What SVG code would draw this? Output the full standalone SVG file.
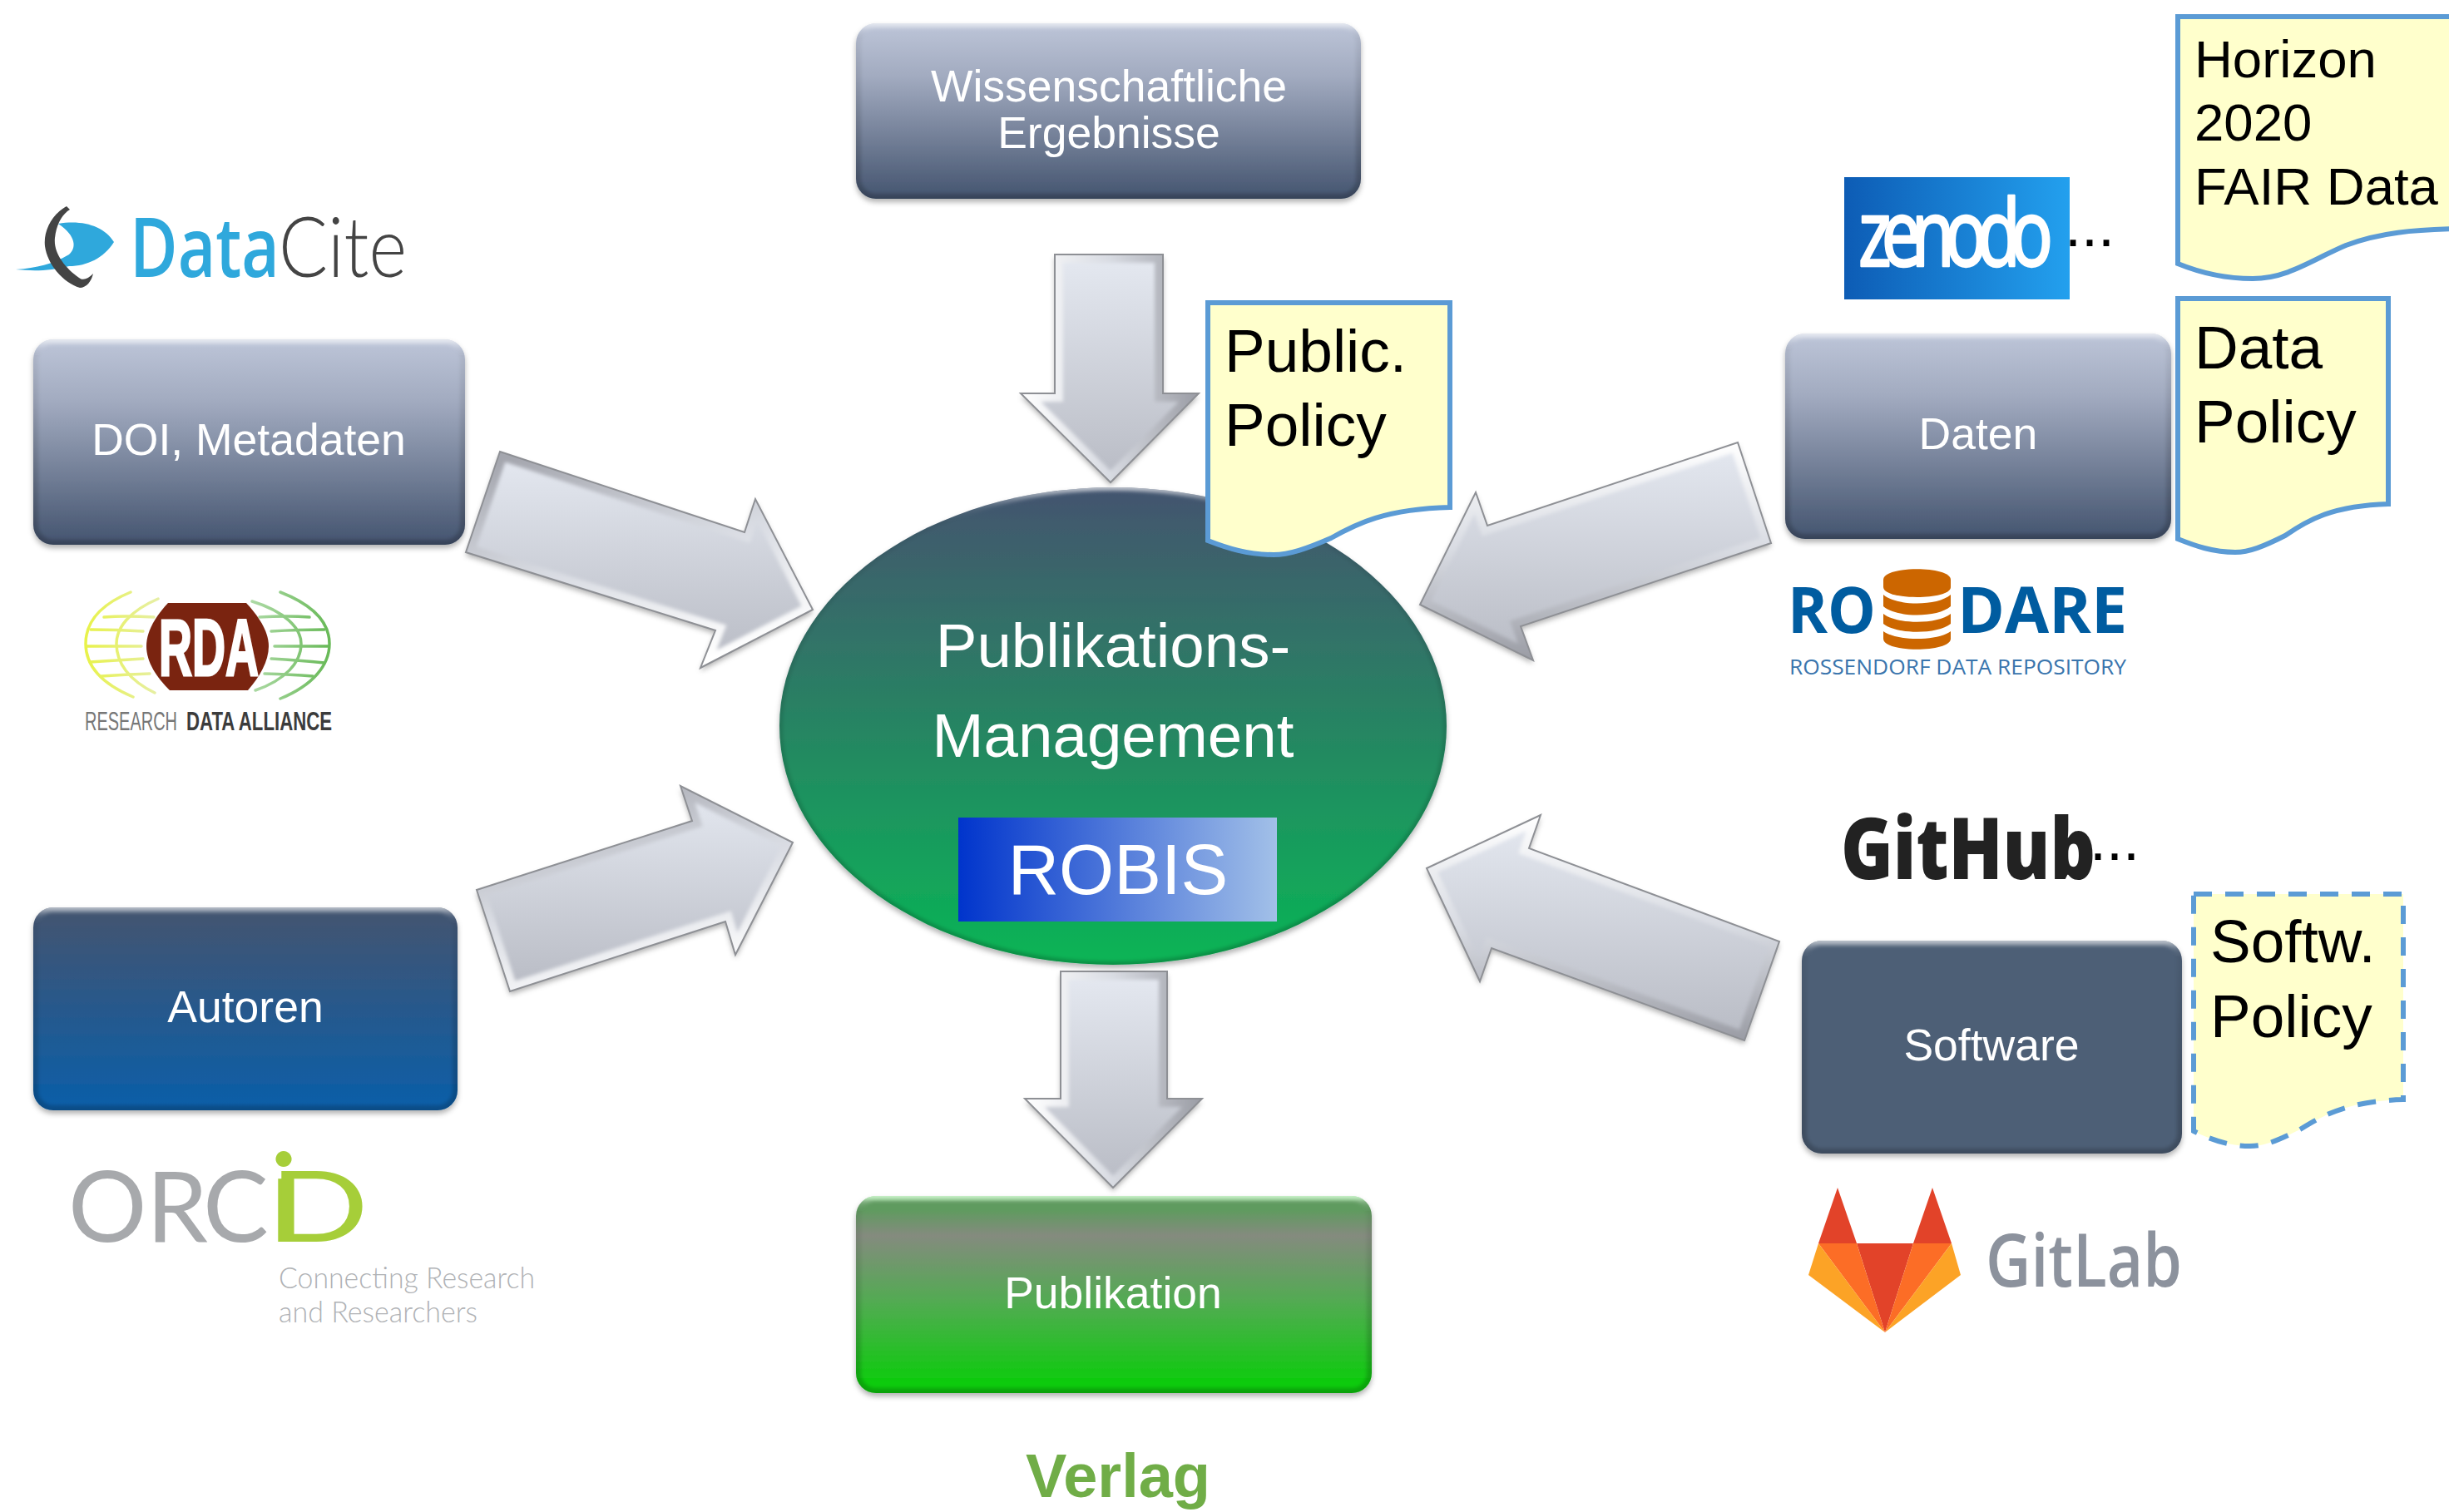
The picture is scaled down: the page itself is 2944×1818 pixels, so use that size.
<svg xmlns="http://www.w3.org/2000/svg" width="2944" height="1818" viewBox="0 0 2944 1818">
<style>
text{font-family:"Liberation Sans",Arial,sans-serif}
.lbl{fill:#fff;text-anchor:middle;font-size:53.5px}
.note{fill:#FFFFCC;stroke:#5B9BD5;stroke-width:6;stroke-linejoin:miter}
.notetxt{fill:#000;font-size:73px}
.arrow{fill:url(#arrowFill);filter:url(#shadow)}
.edge{fill:none;stroke:#8E9095;stroke-width:2;stroke-linejoin:miter}
.bev{fill:none;stroke-width:20;filter:url(#blur)}
.boxbev{fill:none;stroke:url(#boxBevel);stroke-width:12;filter:url(#blurS)}
.dots{fill:#000;font-size:72px}
.logo{font-family:"Open Sans","Liberation Sans",sans-serif}
.lato{font-family:Lato,"Open Sans",sans-serif}
</style>
<defs>
<filter id="shadow" x="-10%" y="-10%" width="120%" height="125%"><feDropShadow dx="0" dy="4" stdDeviation="3" flood-color="#000" flood-opacity=".3"/></filter>
<filter id="blur" x="-5%" y="-5%" width="110%" height="110%"><feGaussianBlur stdDeviation="2"/></filter>
<filter id="blurS" x="-5%" y="-5%" width="110%" height="110%"><feGaussianBlur stdDeviation="2"/></filter>
<linearGradient id="arrowFill" x1="0" y1="0" x2="0" y2="1"><stop offset="0" stop-color="#E5E9F1"/><stop offset="1" stop-color="#B8BBC4"/></linearGradient>
<linearGradient id="bevUp" x1="0" y1="0" x2="0" y2="1"><stop offset="0" stop-color="#FFFFFF"/><stop offset=".5" stop-color="#D8DBE2"/><stop offset="1" stop-color="#9A9CA4"/></linearGradient>
<linearGradient id="bevDown" x1="0.2" y1="0" x2="0.6" y2="1"><stop offset="0" stop-color="#A4A6AE"/><stop offset=".5" stop-color="#D8DBE2"/><stop offset="1" stop-color="#FFFFFF"/></linearGradient>
<linearGradient id="bevSide" x1="0" y1="0" x2="1" y2="0"><stop offset="0" stop-color="#FFFFFF"/><stop offset=".5" stop-color="#D8DBE2"/><stop offset="1" stop-color="#9A9CA4"/></linearGradient>
<linearGradient id="boxBevel" x1="0" y1="0" x2="0" y2="1"><stop offset="0" stop-color="#fff" stop-opacity=".65"/><stop offset=".04" stop-color="#fff" stop-opacity=".1"/><stop offset=".08" stop-color="#000" stop-opacity=".05"/><stop offset="1" stop-color="#000" stop-opacity=".2"/></linearGradient>
<linearGradient id="slate" x1="0" y1="0" x2="0" y2="1"><stop offset="0" stop-color="#BDC5D8"/><stop offset=".3" stop-color="#A2ABC0"/><stop offset="1" stop-color="#44546F"/></linearGradient>
<linearGradient id="blueBox" x1="0" y1="0" x2="0" y2="1"><stop offset="0" stop-color="#44546F"/><stop offset="1" stop-color="#0A5EA9"/></linearGradient>
<linearGradient id="greenBox" x1="0" y1="0" x2="0" y2="1"><stop offset="0" stop-color="#6FD86F"/><stop offset=".03" stop-color="#5F9B5F"/><stop offset=".07" stop-color="#5F9B5F"/><stop offset=".2" stop-color="#848B7E"/><stop offset=".55" stop-color="#50AC50"/><stop offset=".95" stop-color="#0DCB0D"/><stop offset="1" stop-color="#0DCB0D"/></linearGradient>
<linearGradient id="ell" x1="0" y1="0" x2="0" y2="1"><stop offset="0" stop-color="#44546F"/><stop offset="1" stop-color="#09B556"/></linearGradient>
<linearGradient id="robis" x1="0" y1="0" x2="1" y2="0"><stop offset="0" stop-color="#0034CC"/><stop offset="1" stop-color="#A2C0E8"/></linearGradient>
<linearGradient id="zen" x1="0" y1="0" x2="1" y2="0"><stop offset="0" stop-color="#0D5CB5"/><stop offset="1" stop-color="#23A0EE"/></linearGradient>
<linearGradient id="rdaGrid" gradientUnits="userSpaceOnUse" x1="102" y1="0" x2="395" y2="0"><stop offset="0" stop-color="#E4F02A"/><stop offset=".35" stop-color="#E2ECA8"/><stop offset=".65" stop-color="#A8D8A0"/><stop offset="1" stop-color="#4FAE3C"/></linearGradient>
<polygon id="a1" points="1268,306 1398,306 1398,473 1441,473 1335,580 1227,473 1268,473"/>
<polygon id="a2" points="601,543 895,640 908,600 977,733 842,803 860,758 560,664"/>
<polygon id="a3" points="573,1070 832,987 818,945 953,1013 884,1148 872,1108 613,1192"/>
<polygon id="a4" points="2089,532 2129,653 1828,753 1843,794 1707,727 1774,592 1788,632"/>
<polygon id="a5" points="1715,1044 1852,980 1838,1020 2139,1132 2097,1251 1793,1140 1779,1180"/>
<polygon id="a6" points="1275,1168 1403,1168 1403,1321 1445,1321 1338,1428 1232,1321 1275,1321"/>
<clipPath id="c1"><use href="#a1"/></clipPath>
<clipPath id="c2"><use href="#a2"/></clipPath>
<clipPath id="c3"><use href="#a3"/></clipPath>
<clipPath id="c4"><use href="#a4"/></clipPath>
<clipPath id="c5"><use href="#a5"/></clipPath>
<clipPath id="c6"><use href="#a6"/></clipPath>
<rect id="rWiss" x="1029" y="28" width="607" height="211" rx="24"/>
<rect id="rDoi" x="40" y="408" width="519" height="247" rx="24"/>
<rect id="rAut" x="40" y="1091" width="510" height="244" rx="24"/>
<rect id="rDat" x="2146" y="401" width="464" height="247" rx="24"/>
<rect id="rSof" x="2166" y="1131" width="457" height="256" rx="24"/>
<rect id="rPub" x="1029" y="1438" width="620" height="237" rx="24"/>
<clipPath id="cWiss"><use href="#rWiss"/></clipPath>
<clipPath id="cDoi"><use href="#rDoi"/></clipPath>
<clipPath id="cAut"><use href="#rAut"/></clipPath>
<clipPath id="cDat"><use href="#rDat"/></clipPath>
<clipPath id="cSof"><use href="#rSof"/></clipPath>
<clipPath id="cPub"><use href="#rPub"/></clipPath>
<clipPath id="cEll"><ellipse cx="1338" cy="873" rx="401" ry="287"/></clipPath>
</defs>

<rect width="2944" height="1818" fill="#fff"/>

<g id="connectors">
<g><use href="#a1" class="arrow"/><g clip-path="url(#c1)"><use href="#a1" class="bev" stroke="url(#bevSide)"/></g><use href="#a1" class="edge"/></g>
<g><use href="#a2" class="arrow"/><g clip-path="url(#c2)"><use href="#a2" class="bev" stroke="url(#bevDown)"/></g><use href="#a2" class="edge"/></g>
<g><use href="#a3" class="arrow"/><g clip-path="url(#c3)"><use href="#a3" class="bev" stroke="url(#bevDown)"/></g><use href="#a3" class="edge"/></g>
<g><use href="#a4" class="arrow"/><g clip-path="url(#c4)"><use href="#a4" class="bev" stroke="url(#bevUp)"/></g><use href="#a4" class="edge"/></g>
<g><use href="#a5" class="arrow"/><g clip-path="url(#c5)"><use href="#a5" class="bev" stroke="url(#bevUp)"/></g><use href="#a5" class="edge"/></g>
<g><use href="#a6" class="arrow"/><g clip-path="url(#c6)"><use href="#a6" class="bev" stroke="url(#bevSide)"/></g><use href="#a6" class="edge"/></g>
</g>

<g id="node-wissenschaftliche">
<use href="#rWiss" fill="url(#slate)" filter="url(#shadow)"/><g clip-path="url(#cWiss)"><use href="#rWiss" class="boxbev"/></g>
<text class="lbl" x="1333" y="122">Wissenschaftliche</text>
<text class="lbl" x="1333" y="178">Ergebnisse</text>
</g>
<g id="node-doi">
<use href="#rDoi" fill="url(#slate)" filter="url(#shadow)"/><g clip-path="url(#cDoi)"><use href="#rDoi" class="boxbev"/></g>
<text class="lbl" x="299" y="547">DOI, Metadaten</text>
</g>
<g id="node-autoren">
<use href="#rAut" fill="url(#blueBox)" filter="url(#shadow)"/><g clip-path="url(#cAut)"><use href="#rAut" class="boxbev"/></g>
<text class="lbl" x="295" y="1229">Autoren</text>
</g>
<g id="node-daten">
<use href="#rDat" fill="url(#slate)" filter="url(#shadow)"/><g clip-path="url(#cDat)"><use href="#rDat" class="boxbev"/></g>
<text class="lbl" x="2378" y="540">Daten</text>
</g>
<g id="node-software">
<use href="#rSof" fill="#4D5E76" filter="url(#shadow)"/><g clip-path="url(#cSof)"><use href="#rSof" class="boxbev"/></g>
<text class="lbl" x="2394" y="1275">Software</text>
</g>
<g id="node-publikation">
<use href="#rPub" fill="url(#greenBox)" filter="url(#shadow)"/><g clip-path="url(#cPub)"><use href="#rPub" class="boxbev"/></g>
<text class="lbl" x="1338" y="1573">Publikation</text>
</g>

<g id="node-management">
<ellipse cx="1338" cy="873" rx="401" ry="287" fill="url(#ell)" filter="url(#shadow)"/>
<g clip-path="url(#cEll)"><ellipse cx="1338" cy="873" rx="401" ry="287" class="boxbev" style="stroke-width:8"/></g>
<text class="lbl" x="1338" y="802" style="font-size:74.5px">Publikations-</text>
<text class="lbl" x="1338" y="910" style="font-size:74.5px">Management</text>
<rect x="1152" y="983" width="383" height="125" fill="url(#robis)"/>
<text class="lbl" x="1344" y="1075" style="font-size:85px">ROBIS</text>
</g>

<g id="note-public">
<path class="note" d="M1452,364 H1743 V610 C1665,612 1630,630 1600,647 C1570,660 1550,667 1531,667 C1500,667 1475,659 1452,650 Z"/>
<text class="notetxt" x="1472" y="447">Public.</text>
<text class="notetxt" x="1472" y="536">Policy</text>
</g>
<g id="note-horizon">
<path class="note" d="M2618,20 H2960 V275 C2900,276 2860,280 2820,295 C2780,312 2750,335 2708,335 C2675,335 2645,328 2618,317 Z"/>
<text class="notetxt" x="2638" y="93" style="font-size:63.5px">Horizon</text>
<text class="notetxt" x="2638" y="169" style="font-size:63.5px">2020</text>
<text class="notetxt" x="2638" y="246" style="font-size:63.5px">FAIR Data</text>
</g>
<g id="note-data">
<path class="note" d="M2618,359 H2871 V606 C2803,608 2773,626 2747,644 C2721,657 2704,664 2687,664 C2660,664 2638,656 2618,648 Z"/>
<text class="notetxt" x="2638" y="443">Data</text>
<text class="notetxt" x="2638" y="532">Policy</text>
</g>
<g id="note-software">
<path d="M2637,1075 H2889 V1322 C2821,1324 2791,1342 2765,1358 C2739,1371 2723,1378 2705,1378 C2679,1378 2657,1370 2637,1360 Z" fill="#FFFFCC" stroke="#5B9BD5" stroke-width="6" stroke-dasharray="22 16"/>
<text class="notetxt" x="2657" y="1157">Softw.</text>
<text class="notetxt" x="2657" y="1247">Policy</text>
</g>

<g id="logo-datacite">
<path d="M19,324 C45,322 62,318 83,306 C92,298 92,284 70,269 C100,264 125,272 137,291 C125,310 105,320 83,320 C60,326 40,326 19,324 Z" fill="#2FA8DC"/>
<path d="M80,248 C62,258 52,278 54,296 C57,318 76,340 96,346 C104,346 110,338 112,329 C106,335 100,338 95,334 C78,322 64,304 66,286 C68,270 74,258 84,252 Z" fill="#444"/>
<text class="logo" x="156" y="333" font-size="100" font-weight="600" fill="#2FA8DC" textLength="180" lengthAdjust="spacingAndGlyphs">Data</text>
<text class="lato" x="335" y="333" font-size="100" fill="#444" style="font-weight:300" textLength="154" lengthAdjust="spacingAndGlyphs">Cite</text>
</g>

<g id="logo-rda">
<g fill="none" stroke="url(#rdaGrid)" stroke-width="3.5" stroke-linecap="round" opacity=".85">
<path d="M157,712 C118,728 103,750 103,774 C103,800 122,822 160,838"/>
<path d="M190,720 C155,735 140,755 140,774 C140,797 155,818 186,833"/>
<path d="M337,712 C378,728 396,750 396,774 C396,800 376,824 337,840"/>
<path d="M303,723 C342,735 362,755 362,774 C362,797 342,818 307,830"/>
<path d="M125,742 Q150,740 185,742 M109,757 Q140,757 172,759 M104,777 H170 M108,796 Q140,794 172,792 M122,813 Q150,811 180,810"/>
<path d="M312,742 Q345,740 372,742 M326,759 Q360,757 390,757 M330,777 H394 M326,792 Q360,794 390,797 M318,810 Q350,811 376,813"/>
</g>
<path d="M202,725 H296 C312,742 323,760 323,777 C323,795 312,814 298,830 H204 C188,814 176,796 176,777 C176,760 186,742 202,725 Z" fill="#7A2410"/>
<text x="191" y="812" font-size="97" font-weight="700" fill="#fff" stroke="#fff" stroke-width="3" textLength="120" lengthAdjust="spacingAndGlyphs">RDA</text>
<text x="102" y="878" font-size="32" fill="#777" textLength="111" lengthAdjust="spacingAndGlyphs">RESEARCH</text>
<text x="224" y="878" font-size="32" font-weight="700" fill="#3C3C3C" textLength="175" lengthAdjust="spacingAndGlyphs">DATA ALLIANCE</text>
</g>

<g id="logo-orcid">
<text class="lato" y="1493" font-size="118" fill="#A7A9AC"><tspan x="82">O</tspan><tspan x="176">R</tspan><tspan x="244">C</tspan></text>
<text class="lato" y="1493" fill="#A6CE39"><tspan x="323" font-size="150">i</tspan><tspan x="324" font-size="118" textLength="119" lengthAdjust="spacingAndGlyphs">D</tspan></text>
<text class="lato" x="335" y="1549" font-size="36" fill="#B0B2B5" style="font-weight:300" textLength="308" lengthAdjust="spacingAndGlyphs">Connecting Research</text>
<text class="lato" x="335" y="1590" font-size="36" fill="#B0B2B5" style="font-weight:300" textLength="239" lengthAdjust="spacingAndGlyphs">and Researchers</text>
</g>

<g id="logo-zenodo">
<rect x="2217" y="213" width="271" height="147" fill="url(#zen)"/>
<text x="2234" y="320" font-size="112" fill="#fff" stroke="#fff" stroke-width="2.5" stroke-linejoin="round" style="font-family:'Noto Sans',sans-serif;letter-spacing:-16px" textLength="222" lengthAdjust="spacingAndGlyphs">zenodo</text>
<text class="dots" x="2482" y="296">...</text>
</g>

<g id="logo-rodare">
<text class="logo" x="2149" y="761" font-size="77" font-weight="700" fill="#005CA0" textLength="106" lengthAdjust="spacingAndGlyphs">RO</text>
<text class="logo" x="2353" y="761" font-size="77" font-weight="700" fill="#005CA0" textLength="204" lengthAdjust="spacingAndGlyphs">DARE</text>
<path d="M2264,697 C2264,680 2345,680 2345,697 V706 C2345,722 2264,722 2264,706 Z" fill="#CC6600"/>
<path d="M2264,715 C2280,729 2329,729 2345,715 V729 C2329,743 2280,743 2264,729 Z" fill="#CC6600"/>
<path d="M2264,738 C2280,751 2329,751 2345,738 V750 C2329,763 2280,763 2264,750 Z" fill="#CC6600"/>
<path d="M2264,759 C2280,771 2329,771 2345,759 V768 C2345,785 2264,785 2264,768 Z" fill="#CC6600"/>
<text class="logo" x="2151" y="811" font-size="26" fill="#3A75AD" textLength="405" lengthAdjust="spacingAndGlyphs">ROSSENDORF DATA REPOSITORY</text>
</g>

<g id="logo-github">
<text class="logo" x="2213" y="1057" font-size="103" font-weight="800" fill="#222" textLength="306" lengthAdjust="spacingAndGlyphs">GitHub</text>
<text class="dots" x="2512" y="1034">...</text>
</g>

<g id="logo-gitlab">
<polygon points="2209,1428 2186,1495 2232,1495" fill="#E24329"/>
<polygon points="2323,1428 2300,1495 2346,1495" fill="#E24329"/>
<polygon points="2232,1495 2300,1495 2266,1602" fill="#E24329"/>
<polygon points="2186,1495 2232,1495 2266,1602" fill="#FC6D26"/>
<polygon points="2300,1495 2346,1495 2266,1602" fill="#FC6D26"/>
<polygon points="2186,1495 2174,1533 2266,1602" fill="#FCA326"/>
<polygon points="2346,1495 2357,1533 2266,1602" fill="#FCA326"/>
<text x="2387" y="1547" font-size="88" font-weight="600" fill="#8C929D" class="logo" textLength="236" lengthAdjust="spacingAndGlyphs">GitLab</text>
</g>

<text id="label-verlag" x="1344" y="1800" text-anchor="middle" font-size="74" font-weight="700" fill="#70AD47">Verlag</text>
</svg>
